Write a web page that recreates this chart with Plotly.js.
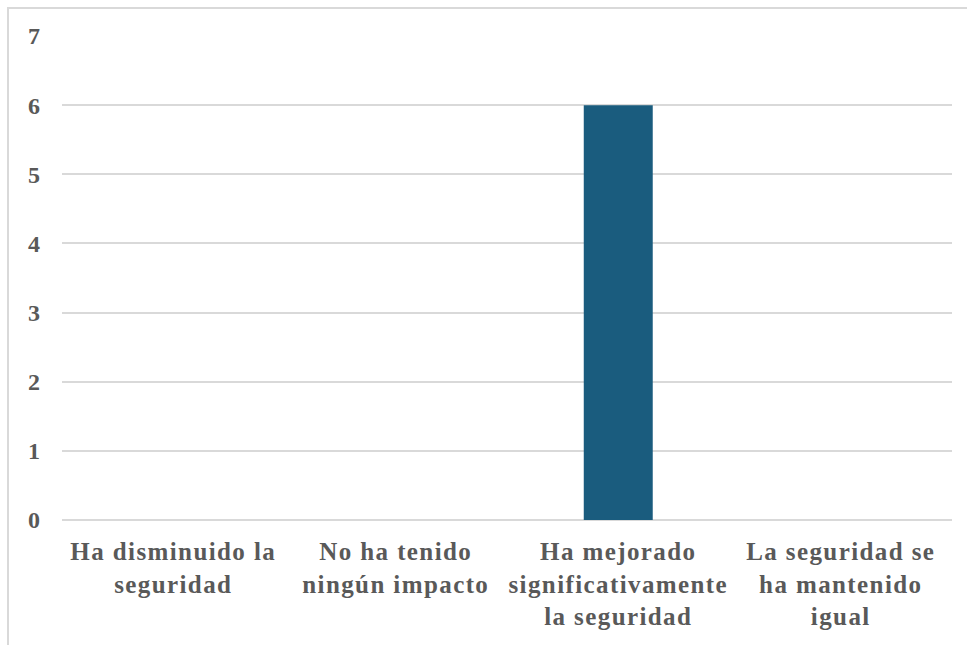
<!DOCTYPE html>
<html>
<head>
<meta charset="utf-8">
<script src="https://cdn.plot.ly/plotly-3.0.1.min.js"></script>
<style>html,body{margin:0;padding:0;background:#fff;}#chart{width:967px;height:645px;}
.xtick text{letter-spacing:1.4px;}</style>
</head>
<body>
<div id="chart"></div>
<script>
const categories = ["Ha disminuido la<br>seguridad", "No ha tenido<br>ningún impacto", "Ha mejorado<br>significativamente<br>la seguridad", "La seguridad se<br>ha mantenido<br>igual"];
const values = [0, 0, 6, 0];
const yTicks = [0, 1, 2, 3, 4, 5, 6, 7];

const W = 967, H = 645, L = 62, R = 15, T = 36, B = 125;
const pw = W - L - R, ph = H - T - B;

const yfont = {family: "Liberation Serif", size: 24, color: "#595959", weight: "bold"};
const xfont = {family: "Liberation Serif", size: 25, color: "#595959", weight: "bold"};

Plotly.newPlot("chart", [{
  type: "bar",
  x: categories,
  y: values,
  marker: {color: "#1a5c7e"},
  hoverinfo: "skip"
}], {
  width: W, height: H,
  margin: {l: L, r: R, t: T, b: B, pad: 0},
  paper_bgcolor: "#fff", plot_bgcolor: "#fff",
  bargap: 0.69,
  showlegend: false,
  font: yfont,
  xaxis: {
    tickfont: xfont, showgrid: false, zeroline: false, showline: false,
    ticks: "", ticklabelstandoff: 14, fixedrange: true
  },
  yaxis: {
    range: [0, 7], tickvals: yTicks, ticktext: yTicks.map(String),
    tickfont: yfont, showgrid: true, gridcolor: "#d9d9d9", gridwidth: 2,
    zeroline: true, zerolinecolor: "#d9d9d9", zerolinewidth: 2,
    showline: false, ticks: "", ticklabelstandoff: 21, fixedrange: true
  },
  shapes: [{
    type: "rect", xref: "paper", yref: "paper",
    x0: (8 - L) / pw, x1: 1 + 40 / pw,
    y0: -(B + 20) / ph, y1: 1 + (T - 8) / ph,
    line: {color: "#d9d9d9", width: 2}, fillcolor: "rgba(0,0,0,0)", layer: "below"
  }]
}, {displayModeBar: false, staticPlot: true});
</script>
</body>
</html>
